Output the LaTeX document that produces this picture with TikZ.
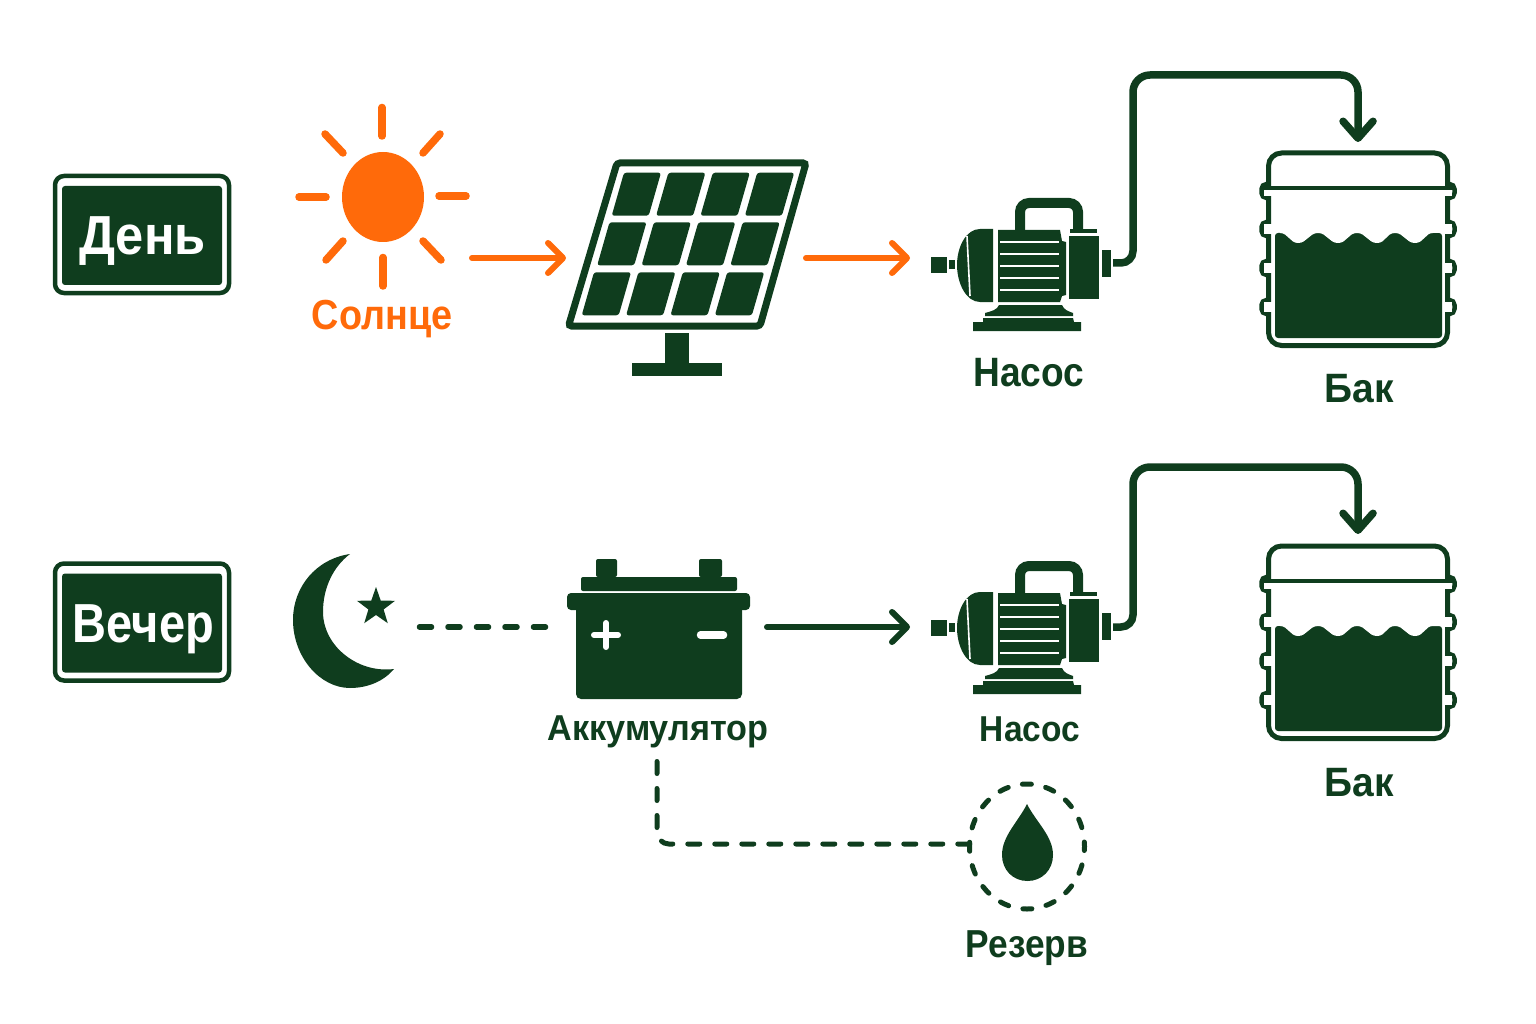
\documentclass[tikz,border=0pt]{standalone}
\usepackage{fontspec}
\setmainfont{Liberation Sans}
\usetikzlibrary{arrows.meta,shapes.geometric}
\definecolor{dk}{HTML}{0F3D1E}
\definecolor{og}{HTML}{FF6A0A}
\newcommand\lab[3]{\scalebox{#1}[1]{\fontsize{#2}{#2}\selectfont\bfseries #3}}
\tikzset{
  x=1pt,y=-1pt,
  lbl/.style={anchor=base,inner sep=0pt,outer sep=0pt,text=dk},
  flow/.style={line width=6pt,line cap=round,-{Straight Barb[length=15pt,width=30pt,line cap=round,line join=round]}},
  pipe/.style={draw=dk,line width=7.5pt,-{Straight Barb[length=17pt,width=30pt,line cap=round,line join=round]}},
  dashlink/.style={draw=dk,line width=5.5pt,line cap=round,dash pattern=on 12pt off 16.5pt},
  badgeout/.style={draw=dk,fill=white,line width=4.5pt,rounded corners=9pt,minimum width=174pt,minimum height=117pt,inner sep=0pt},
  badgein/.style={fill=dk,rounded corners=3pt,minimum width=160pt,minimum height=99pt,inner sep=0pt},
  pump/.pic={
    \fill[dk] (931,257) rectangle (947,273);
    \fill[dk] (949,260) rectangle (955,269);
    \fill[dk] (980,229) .. controls (966,229) and (957,247) .. (957,265) .. controls (957,283) and (966,302) .. (980,302) -- (993,302) -- (993,229) -- cycle;
    \draw[white,line width=1.6pt] (967,236) -- (970,296);
    \fill[dk] (998,230) -- (1060,230) -- (1062,241) -- (1066,242) -- (1066,295) -- (1062,296) -- (1060,302) -- (998,302) -- cycle;
    \foreach \yy in {242,254,266,278,290}{\fill[white] (1000,\yy-1.3) rectangle (1059,\yy+1.3);}
    \fill[dk] (1069,236) rectangle (1099,299);
    \fill[dk] (1070,229) rectangle (1097,233);
    \draw[dk,line width=10pt,rounded corners=9pt] (1020,231) -- (1020,203) -- (1078,203) -- (1078,229);
    \fill[dk] (1102,250) rectangle (1111,277);
    \fill[dk] (999,305) -- (1062,305) .. controls (1064,310) and (1068,311) .. (1073,313) -- (1073,316) -- (985,316) -- (985,313) .. controls (992,311) and (997,310) .. (999,305) -- cycle;
    \fill[dk] (983,318) -- (1073,318) -- (1074,322) -- (1081,322) -- (1081,331) -- (973,331) -- (973,322) -- (983,322) -- cycle;
  },
  tank/.pic={
    \draw[dk,line width=5pt,rounded corners=13pt] (1268.5,188) -- (1268.5,153) -- (1447.5,153) -- (1447.5,188);
    \draw[dk,line width=5pt,rounded corners=13pt] (1268.5,188) -- (1268.5,345.5) -- (1447.5,345.5) -- (1447.5,188);
    \foreach \yy in {191,229,268,307}{
      \draw[dk,line width=4.5pt,rounded corners=5pt] (1269,\yy-7) -- (1261.5,\yy-7) -- (1261.5,\yy+7) -- (1269,\yy+7);
      \draw[dk,line width=4.5pt,rounded corners=5pt] (1447,\yy-7) -- (1454.5,\yy-7) -- (1454.5,\yy+7) -- (1447,\yy+7);
      \fill[white] (1264,\yy-4.7) rectangle (1272,\yy+4.7);
      \fill[white] (1444,\yy-4.7) rectangle (1452,\yy+4.7);
    }
    \draw[dk,line width=3.5pt] (1262,188) -- (1454,188);
    \fill[dk,rounded corners=3pt] (1275,338) -- (1275,233) -- (1282,233) -- (1442,233) -- (1442,338) -- cycle;
    \fill[white] (1274,232) -- (1280,232) -- (1280,233) .. controls (1288,233) and (1290,243) .. (1298,243) .. controls (1307,243) and (1309,233) .. (1318,233) .. controls (1327,233) and (1329,243) .. (1338,243) .. controls (1347,243) and (1348,233) .. (1357,233) .. controls (1366,233) and (1368,243) .. (1377,243) .. controls (1386,243) and (1386,233) .. (1395,233) .. controls (1404,233) and (1406,243) .. (1415,243) .. controls (1424,243) and (1425,233) .. (1433,233) -- (1443,233) -- (1443,230) -- (1274,230) -- cycle;
  }
}
\begin{document}
\begin{tikzpicture}
\useasboundingbox (0,0) rectangle (1536,1024);
% badges
\node[badgeout] (dayout) at (142,234.5) {};
\node[badgein] (dayin) at (142,235.5) {};
\node[lbl,text=white] (day) at (142.5,255) {\lab{.92}{55}{День}};
\node[badgeout] (eveout) at (142,622) {};
\node[badgein] (evein) at (142,623) {};
\node[lbl,text=white] (eve) at (143.5,642) {\lab{.855}{55}{Вечер}};
% sun
\fill[og] (383,197) ellipse [x radius=41,y radius=45];
\begin{scope}[draw=og,line width=7.5pt,line cap=round]
\draw (382,107.5) -- (382,136);
\draw (383,257.5) -- (383,286);
\draw (299,197) -- (326,197);
\draw (439,196) -- (466,196);
\draw (325,134) -- (343,153);
\draw (440,134) -- (423,153);
\draw (343,241) -- (326,260);
\draw (423,241) -- (441,260);
\end{scope}
\node[lbl,text=og] (sunl) at (382,329) {\lab{.9}{42}{Солнце}};
% panel
\draw[dk,line width=7pt,rounded corners=3pt,fill=white] (617,163) -- (806,163) -- (760,326) -- (568.5,326) -- cycle;
\foreach \ry/\rx in {172.7/624,222.3/609.5,272.3/594}{
  \foreach \c in {0,1,2,3}{
    \fill[dk,rounded corners=2.5pt] (\rx+\c*44.4,\ry) -- (\rx+\c*44.4+37,\ry) -- (\rx+\c*44.4+24.7,\ry+43) -- (\rx+\c*44.4-12.3,\ry+43) -- cycle;
  }
}
\fill[dk] (665,333) rectangle (689,364);
\fill[dk] (632,363) rectangle (722,376);
% day pump and tank
\pic at (0,0) {pump};
\pic at (0,0) {tank};
\node[lbl] (pumpl1) at (1029,386) {\lab{.905}{41}{Насос}};
\node[lbl] (tankl1) at (1359,402) {\lab{.95}{41}{Бак}};
% connectors day
\coordinate (sunout) at (472,258);
\coordinate (panelin) at (566,258);
\coordinate (panelout) at (806,258);
\coordinate (pumpin1) at (910,258);
\coordinate (pumpout1) at (1113,263);
\coordinate (pumpup1) at (1133,263);
\coordinate (bend1) at (1133,75);
\coordinate (bendr1) at (1358,75);
\coordinate (tankin1) at (1358,142);
\draw[flow,draw=og] (sunout) -- (panelin);
\draw[flow,draw=og] (panelout) -- (pumpin1);
\draw[pipe,rounded corners=12pt] (pumpout1) -- (pumpup1) [rounded corners=17pt] -- (bend1) -- (bendr1) -- (tankin1);
% moon
\fill[dk] (350,554) .. controls (316,559) and (293,587) .. (293,620) .. controls (293,657) and (320,688) .. (350,688) .. controls (368,688) and (384,681) .. (394,669) .. controls (378,671) and (360,667) .. (345,655) .. controls (331,644) and (323,628) .. (323,612) .. controls (323,588) and (333,567) .. (350,554) -- cycle;
\node[star,star points=5,star point ratio=2.5,fill=dk,inner sep=0pt,outer sep=0pt,minimum size=40pt] (starn) at (376,607) {};
% battery
\fill[dk,rounded corners=2pt] (596,577) -- (596,559) -- (617,559) -- (617,577) -- cycle;
\fill[dk,rounded corners=2pt] (699,577) -- (699,559) -- (722,559) -- (722,577) -- cycle;
\fill[dk,rounded corners=2pt] (581,591) -- (581,577) -- (737,577) -- (737,591) -- cycle;
\fill[dk,rounded corners=4pt] (567,610) -- (567,593) -- (750,593) -- (750,610) -- cycle;
\fill[dk,rounded corners=5pt] (576,605) -- (742,605) -- (742,699) -- (576,699) -- cycle;
\draw[white,line width=6pt,line cap=round] (594,635) -- (618,635);
\draw[white,line width=6pt,line cap=round] (606,623) -- (606,647);
\draw[white,line width=7.5pt,line cap=round] (700.5,635) -- (723.5,635);
\node[lbl] (batl) at (658,740) {\lab{.95}{36}{Аккумулятор}};
% evening pump and tank
\pic at (0,363) {pump};
\pic at (0,393) {tank};
\node[lbl] (pumpl2) at (1030,741) {\lab{.93}{36}{Насос}};
\node[lbl] (tankl2) at (1359,796) {\lab{.95}{41}{Бак}};
% reserve
\node[ellipse,draw=dk,line width=5pt,line cap=round,dash pattern=on 9pt off 14.6pt,dash phase=4.5pt,minimum width=115pt,minimum height=125pt,inner sep=0pt,outer sep=0pt] (reserve) at (1027,846.5) {};
\fill[dk] (1027,804) .. controls (1018,822) and (1002,836) .. (1002,855) .. controls (1002,870) and (1013,881) .. (1027.5,881) .. controls (1042,881) and (1053,870) .. (1053,855) .. controls (1053,836) and (1036,822) .. (1027,804) -- cycle;
\node[lbl] (resl) at (1027,957) {\lab{.905}{39}{Резерв}};
% connectors evening
\coordinate (moonout) at (419.5,627);
\coordinate (batin) at (549,627);
\coordinate (batout) at (767,627);
\coordinate (pumpin2) at (910,627);
\coordinate (pumpout2) at (1113,627);
\coordinate (pumpup2) at (1133,627);
\coordinate (bend2) at (1133,467);
\coordinate (bendr2) at (1358,467);
\coordinate (tankin2) at (1358,534);
\coordinate (batdown) at (657,761.5);
\coordinate (resin) at (970,844);
\draw[dashlink] (moonout) -- (batin);
\draw[flow,draw=dk] (batout) -- (pumpin2);
\draw[pipe,rounded corners=12pt] (pumpout2) -- (pumpup2) [rounded corners=17pt] -- (bend2) -- (bendr2) -- (tankin2);
\draw[draw=dk,line width=5pt,line cap=round,dash pattern=on 12pt off 15pt,rounded corners=12pt] (batdown) |- (resin);
\end{tikzpicture}
\end{document}
